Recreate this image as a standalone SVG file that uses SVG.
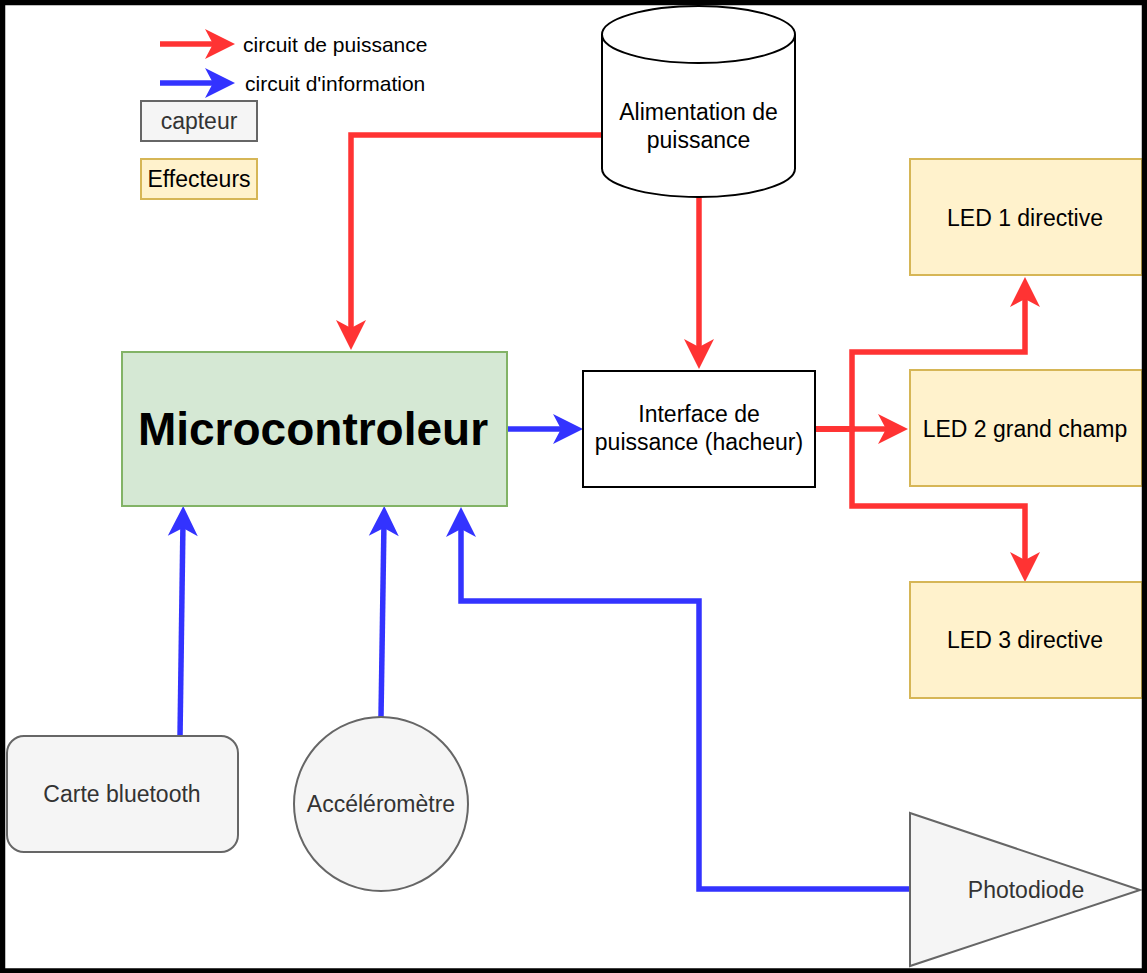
<svg xmlns="http://www.w3.org/2000/svg" width="1147" height="973" viewBox="0 0 1147 973">
<style>
text{font-family:"Liberation Sans",Arial,sans-serif;text-anchor:middle;fill:#000}
.t{font-size:23px}
.g{fill:#333}
.leg{font-size:21px;text-anchor:start}
.sensor{fill:#f5f5f5;stroke:#666;stroke-width:2}
.eff{fill:#fff2cc;stroke:#d6b656;stroke-width:2}
.red{fill:none;stroke:#ff3333;stroke-width:5.5;stroke-linejoin:miter}
.blue{fill:none;stroke:#3333ff;stroke-width:5.5;stroke-linejoin:miter}
</style>
<defs>
<marker id="ar" markerUnits="userSpaceOnUse" markerWidth="30" markerHeight="30" viewBox="0 0 30 30" refX="15" refY="15" orient="auto" overflow="visible">
<path d="M0,0 L30,15 L0,30 L8,15 Z" fill="#ff3333"/>
</marker>
<marker id="ab" markerUnits="userSpaceOnUse" markerWidth="30" markerHeight="30" viewBox="0 0 30 30" refX="15" refY="15" orient="auto" overflow="visible">
<path d="M0,0 L30,15 L0,30 L8,15 Z" fill="#3333ff"/>
</marker>
</defs>
<rect x="0" y="0" width="1147" height="973" fill="#fff"/>

<g id="legend">
<path class="red" d="M160,44 H220" marker-end="url(#ar)"/>
<text class="leg" x="243" y="52">circuit de puissance</text>
<path class="blue" d="M160,83 H220" marker-end="url(#ab)"/>
<text class="leg" x="245" y="91">circuit d'information</text>
</g>
<g id="legend-capteur">
<rect class="sensor" x="141" y="101" width="116" height="40"/>
<text class="t g" x="199" y="129">capteur</text>
</g>
<g id="legend-effecteurs">
<rect class="eff" x="141" y="159" width="116" height="40"/>
<text class="t" x="199" y="187">Effecteurs</text>
</g>

<g id="connectors">
<path class="red" d="M602,135 H351 V335" marker-end="url(#ar)"/>
<path class="red" d="M699,197 V354" marker-end="url(#ar)"/>
<path class="red" d="M815,429 H893" marker-end="url(#ar)"/>
<path class="red" d="M815,429 H852 V352 H1025 V292" marker-end="url(#ar)"/>
<path class="red" d="M815,429 H852 V506 H1025 V567" marker-end="url(#ar)"/>
<path class="blue" d="M507,429 H568" marker-end="url(#ab)"/>
<path class="blue" d="M180,737 L183,521" marker-end="url(#ab)"/>
<path class="blue" d="M381,717 L384,521" marker-end="url(#ab)"/>
<path class="blue" d="M910,889 H699 V601 H461 V522" marker-end="url(#ab)"/>
</g>

<g id="alimentation">
<path d="M602,34.5 V168.5 A96.5,28.5 0 0 0 795,168.5 V34.5" fill="#fff" stroke="#000" stroke-width="2"/>
<ellipse cx="698.5" cy="34.5" rx="96.5" ry="28.5" fill="#fff" stroke="#000" stroke-width="2"/>
<text class="t" x="698.5" y="120">Alimentation de</text>
<text class="t" x="698.5" y="148">puissance</text>
</g>

<g id="microcontroleur">
<rect x="122" y="352" width="385" height="154" fill="#d5e8d4" stroke="#82b366" stroke-width="2"/>
<text x="313" y="445" font-size="46" font-weight="bold">Microcontroleur</text>
</g>

<g id="interface">
<rect x="583" y="371" width="232" height="116" fill="#fff" stroke="#000" stroke-width="2"/>
<text class="t" x="699" y="422">Interface de</text>
<text class="t" x="699" y="450">puissance (hacheur)</text>
</g>

<g id="led1">
<rect class="eff" x="910" y="159" width="232" height="116"/>
<text class="t" x="1025" y="226">LED 1 directive</text>
</g>
<g id="led2">
<rect class="eff" x="910" y="370" width="232" height="116"/>
<text class="t" x="1025" y="437">LED 2 grand champ</text>
</g>
<g id="led3">
<rect class="eff" x="910" y="582" width="232" height="116"/>
<text class="t" x="1025" y="648">LED 3 directive</text>
</g>

<g id="bluetooth">
<rect class="sensor" x="7" y="736" width="231" height="116" rx="17"/>
<text class="t g" x="122" y="802">Carte bluetooth</text>
</g>
<g id="accelerometre">
<circle class="sensor" cx="381" cy="804" r="87"/>
<text class="t g" x="381" y="812">Accéléromètre</text>
</g>
<g id="photodiode">
<path class="sensor" d="M910,813 L1140,890 L910,966 Z"/>
<text class="t g" x="1026" y="898">Photodiode</text>
</g>

<rect x="2.5" y="2.5" width="1142" height="968.5" fill="none" stroke="#000" stroke-width="5.5"/>
</svg>
